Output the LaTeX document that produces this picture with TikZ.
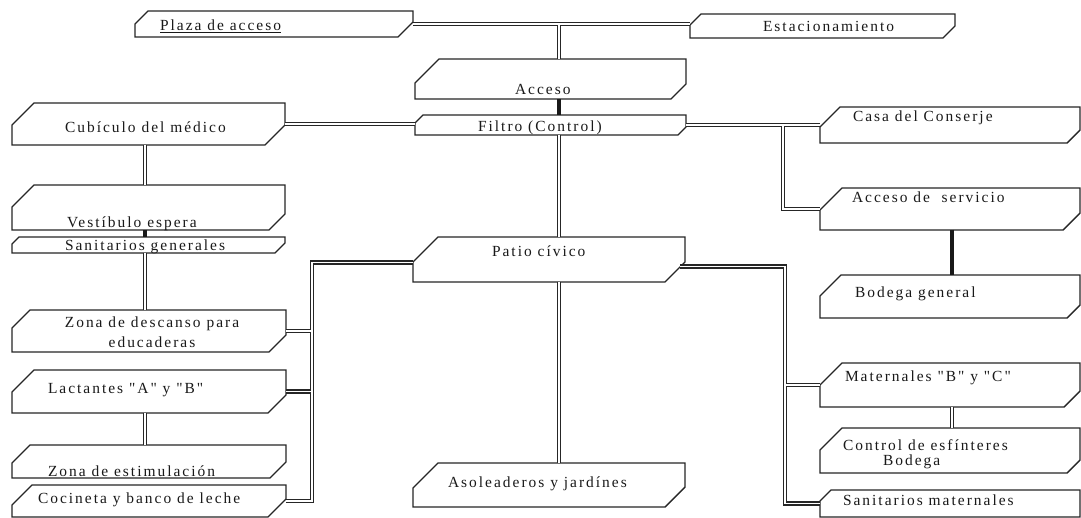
\documentclass[tikz,border=0pt]{standalone}
\usepackage{fontspec}
\setmainfont{Liberation Serif}[LetterSpace=13, Ligatures=TeXOff]
\usetikzlibrary{calc}
\tikzset{
  boxn/.style={rectangle, draw=none, inner sep=0pt, outer sep=0pt},
  boxline/.style={draw=black!85, line width=1.4bp, line join=miter},
  txt/.style={inner sep=0pt, outer sep=0pt, text=black!90, font=\fontsize{15.5}{21}\selectfont},
  dblout/.style={draw=black!85, line width=4.2bp},
  dblin/.style={draw=white, line width=1.6bp},
  solidc/.style={draw=black!90, line width=3.6bp}
}
\newcommand\bx[7]{%
  \pgfmathsetmacro\bw{#4-#2}\pgfmathsetmacro\bh{#5-#3}%
  \node[boxn, minimum width=\bw bp, minimum height=\bh bp] (#1) at ({(#2+#4)/2},{(#3+#5)/2}) {};
  \draw[boxline] (#1.south west) -- ($(#1.north west)+(0,#6)$) -- ($(#1.north west)+(#6,0)$) -- (#1.north east) -- ($(#1.south east)+(0,-#7)$) -- ($(#1.south east)+(-#7,0)$) -- cycle;}
\begin{document}
\begin{tikzpicture}[x=1bp, y=-1bp]
\useasboundingbox[fill=white] (0,0) rectangle (1081,518);
% boxes: name, left, top, right, bottom, cutL, cutR
\bx{plaza}{135}{11}{413}{37}{13}{15}
\bx{estac}{690}{14}{955}{38}{11}{12}
\bx{acceso}{415}{59}{686}{99}{24}{15}
\bx{filtro}{415}{115}{686}{135}{8}{8}
\bx{cubiculo}{12}{103}{285}{145}{22}{20}
\bx{vestibulo}{12}{185}{285}{230}{22}{16}
\bx{sangen}{12}{237}{285}{253}{7}{10}
\bx{zonadesc}{12}{310}{286}{352}{18}{17}
\bx{lactantes}{12}{370}{286}{413}{22}{18}
\bx{zonaestim}{12}{445}{286}{478}{18}{16}
\bx{cocineta}{12}{485}{286}{517}{20}{18}
\bx{patio}{413}{237}{685}{282}{25}{20}
\bx{asolead}{413}{463}{685}{507}{25}{20}
\bx{casa}{820}{107}{1080}{143}{20}{13}
\bx{accserv}{820}{188}{1080}{230}{22}{17}
\bx{bodega}{820}{275}{1080}{318}{21}{13}
\bx{maternales}{820}{363}{1080}{407}{22}{16}
\bx{control}{820}{428}{1080}{473}{22}{13}
\bx{sanmat}{820}{490}{1080}{517}{11}{0}
% texts
\node[txt, anchor=base west] (t-plaza) at (160,31) {\underline{Plaza de acceso}};
\node[txt, anchor=base west] (t-estac) at (763,32) {Estacionamiento};
\node[txt, anchor=base west] (t-acceso) at (515,95) {Acceso};
\node[txt, anchor=base west] (t-filtro) at (478,132) {Filtro (Control)};
\node[txt, anchor=base west] (t-cubiculo) at (65,133) {Cubículo del médico};
\node[txt, anchor=base west] (t-vestibulo) at (67,228) {Vestíbulo espera};
\node[txt, anchor=base west] (t-sangen) at (65,251) {Sanitarios generales};
\node[txt, anchor=base, align=center] (t-zonadesc) at (152,348) {Zona de descanso para\\educaderas};
\node[txt, anchor=base west] (t-lactantes) at (48,393) {Lactantes "A" y "B"};
\node[txt, anchor=base west] (t-zonaestim) at (48,476) {Zona de estimulación};
\node[txt, anchor=base west] (t-cocineta) at (38,503) {Cocineta y banco de leche};
\node[txt, anchor=base west] (t-patio) at (492,257) {Patio cívico};
\node[txt, anchor=base west] (t-asolead) at (448,487) {Asoleaderos y jardínes};
\node[txt, anchor=base west] (t-casa) at (853,122) {Casa del Conserje};
\node[txt, anchor=base west] (t-accserv) at (852,203) {Acceso de\ \ servicio};
\node[txt, anchor=base west] (t-bodega) at (855,298) {Bodega general};
\node[txt, anchor=base west] (t-maternales) at (845,382) {Maternales "B" y "C"};
\node[txt, anchor=base west, align=left, font=\fontsize{15.5}{15}\selectfont] (t-control) at (843,465) {Control de esfínteres\\\hspace*{40bp}Bodega};
\node[txt, anchor=base west] (t-sanmat) at (843,505) {Sanitarios maternales};
% junction coordinates
\coordinate (jc) at (559,0);
\coordinate (jl) at (145,0);
\coordinate (jr) at (952,0);
\coordinate (busl) at (312,262);
\coordinate (busr) at (785,267);
\coordinate (jsv) at (783,0);
\coordinate (pw) at ($(patio.west)+(0,3)$);
\coordinate (pe) at ($(patio.east)+(-5,7)$);
\def\dblpaths{
  (plaza.east) -- (plaza.east -| estac.west)
  (jc |- plaza.east) -- (jc |- acceso.north)
  (jc |- filtro.south) -- (jc |- patio.north)
  (jc |- patio.south) -- (jc |- asolead.north)
  (cubiculo.east) -- (cubiculo.east -| filtro.west)
  (filtro.east) -- (filtro.east -| casa.west)
  (jsv |- filtro.east) |- (accserv.west)
  (jl |- cubiculo.south) -- (jl |- vestibulo.north)
  (jl |- sangen.south) -- (jl |- zonadesc.north)
  (jl |- lactantes.south) -- (jl |- zonaestim.north)
  (pw) -| (busl |- cocineta.east) -- (cocineta.east)
  (zonadesc.east) -- (zonadesc.east -| busl)
  (lactantes.east) -- (lactantes.east -| busl)
  (pe) -| (busr |- sanmat.west) -- (sanmat.west)
  (busr |- maternales.west) -- (maternales.west)
  (jr |- maternales.south) -- (jr |- control.north)
}
\draw[dblout] \dblpaths;
\draw[dblin] \dblpaths;
\draw[solidc] (jc |- acceso.south) -- (jc |- filtro.north);
\draw[solidc] (jl |- vestibulo.south) -- (jl |- sangen.north);
\draw[solidc] (jr |- accserv.south) -- (jr |- bodega.north);
\end{tikzpicture}
\end{document}
